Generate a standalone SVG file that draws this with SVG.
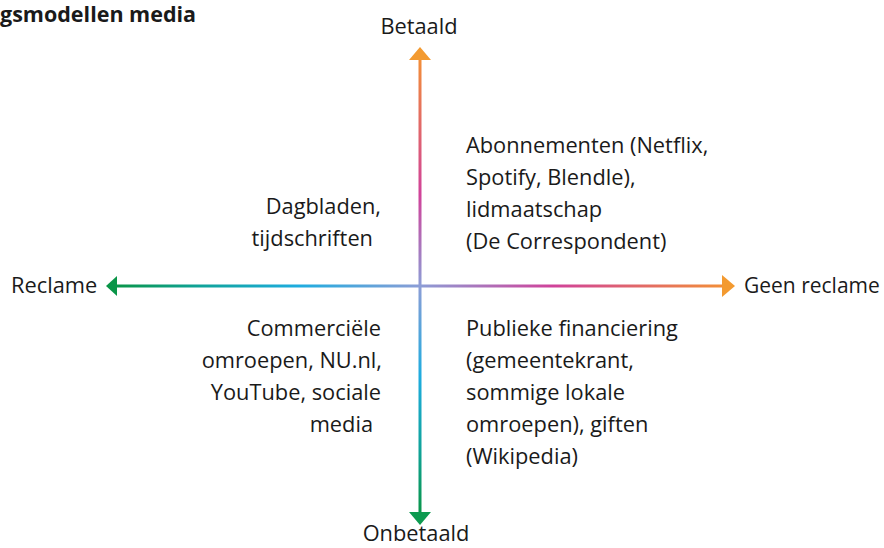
<svg xmlns="http://www.w3.org/2000/svg" width="884" height="548" viewBox="0 0 884 548">
<style>
text{font-family:"Open Sans","Noto Sans","Liberation Sans",sans-serif;font-size:21.8px;fill:#1a1a1a}
.t{font-weight:bold;font-size:21.5px}
.e{text-anchor:end}
.m{text-anchor:middle}
.ax{fill:none;stroke-width:3}
</style>
<defs>
<linearGradient id="gh" gradientUnits="userSpaceOnUse" x1="116" y1="0" x2="723" y2="0">
<stop offset="0" stop-color="#0a9548"/>
<stop offset="0.14" stop-color="#10a39a"/>
<stop offset="0.3" stop-color="#1eacdf"/>
<stop offset="0.5" stop-color="#8c9dd6"/>
<stop offset="0.72" stop-color="#d0429a"/>
<stop offset="1" stop-color="#f28e38"/>
</linearGradient>
<linearGradient id="gv" gradientUnits="userSpaceOnUse" x1="0" y1="59" x2="0" y2="513">
<stop offset="0" stop-color="#f28e38"/>
<stop offset="0.3" stop-color="#d0429a"/>
<stop offset="0.5" stop-color="#8c9dd6"/>
<stop offset="0.7" stop-color="#1eacdf"/>
<stop offset="0.86" stop-color="#10a39a"/>
<stop offset="1" stop-color="#0a9548"/>
</linearGradient>
</defs>
<text class="t" x="0" y="22">gsmodellen media</text>
<g id="connectors">
<line class="ax" x1="116" y1="286" x2="723" y2="286" stroke="url(#gh)"/>
<line class="ax" x1="420" y1="59" x2="420" y2="513" stroke="url(#gv)"/>
<polygon points="106,286 117,276 117,296" fill="#0a9548"/>
<polygon points="735,286 722,275 722,297" fill="#f39a30"/>
<polygon points="420,47 409,60 431,60" fill="#f39a30"/>
<polygon points="420,525 409,512 431,512" fill="#0d9a50"/>
</g>
<g id="betaald"><text class="m" x="419" y="34">Betaald</text></g>
<g id="onbetaald"><text class="m" x="416" y="541">Onbetaald</text></g>
<g id="reclame"><text x="11" y="293">Reclame</text></g>
<g id="geen-reclame"><text x="744" y="293" style="font-size:21px">Geen reclame</text></g>
<g id="q-top-right">
<text x="466" y="153">Abonnementen (Netflix,</text>
<text x="466" y="185">Spotify, Blendle),</text>
<text x="466" y="217">lidmaatschap</text>
<text x="466" y="249">(De Correspondent)</text>
</g>
<g id="q-top-left">
<text class="e" x="381" y="214">Dagbladen,</text>
<text class="e" x="373" y="246">tijdschriften</text>
</g>
<g id="q-bottom-left">
<text class="e" x="381" y="336">Commerciële</text>
<text class="e" x="382" y="368">omroepen, NU.nl,</text>
<text class="e" x="381" y="400">YouTube, sociale</text>
<text class="e" x="373" y="432">media</text>
</g>
<g id="q-bottom-right">
<text x="466" y="336">Publieke financiering</text>
<text x="466" y="368">(gemeentekrant,</text>
<text x="466" y="400">sommige lokale</text>
<text x="466" y="432">omroepen), giften</text>
<text x="466" y="464">(Wikipedia)</text>
</g>
</svg>
